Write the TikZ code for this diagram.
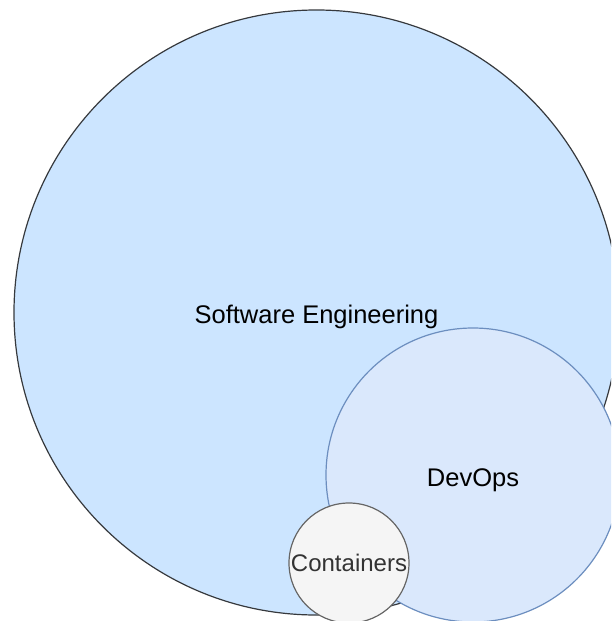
\documentclass[tikz,border=0pt]{standalone}
\usepackage{fontspec}
\setmainfont{Liberation Sans}
\usetikzlibrary{positioning}
\definecolor{sefill}{HTML}{CCE5FF}
\definecolor{sedraw}{HTML}{36393D}
\definecolor{dofill}{HTML}{DAE8FC}
\definecolor{dodraw}{HTML}{6C8EBF}
\definecolor{ctfill}{HTML}{F5F5F5}
\definecolor{ctdraw}{HTML}{666666}
\definecolor{cttext}{HTML}{333333}
\tikzset{
	area/.style={circle, inner sep=0pt, line width=1.2pt},
	lbl/.style={inner sep=0pt, font=\fontsize{25.5}{30}\selectfont}
}
\begin{document}
\begin{tikzpicture}[x=1pt,y=-1pt]
				\useasboundingbox (0,0) rectangle (611,621);
				\clip (0,0) rectangle (611,621);
				\node[area, draw=sedraw, fill=sefill, minimum size=605pt] (se) at (316.5,312.5) {};
				\node[area, draw=dodraw, fill=dofill, minimum size=294pt] (devops) at (473,475) {};
				\node[area, draw=ctdraw, fill=ctfill, minimum size=120pt] (cont) at (349,563) {};
				\node[lbl, yshift=-4pt] (selbl) at (se) {Software Engineering};
				\node[lbl, yshift=-5pt] (dolbl) at (devops) {DevOps};
				\node[lbl, text=cttext, font=\fontsize{24}{28}\selectfont] (ctlbl) at (cont) {Containers};
			\end{tikzpicture}
\end{document}
